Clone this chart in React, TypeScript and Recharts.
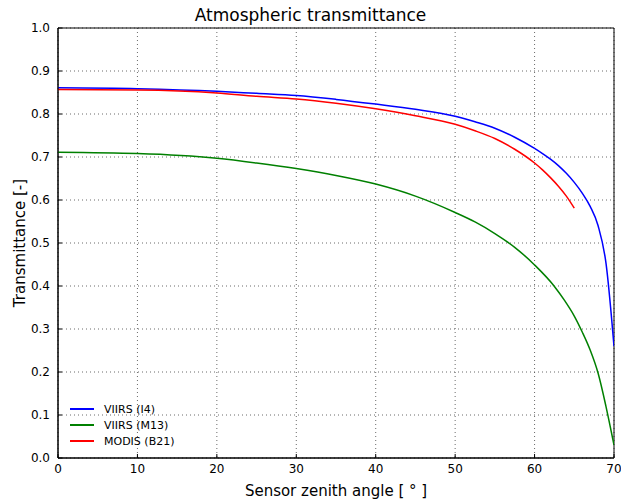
import { LineChart, Line, XAxis, YAxis, CartesianGrid, ReferenceArea } from 'recharts';

const FONT = "'DejaVu Sans', sans-serif";
const TICK = { fontSize: 12, fill: '#000', fontFamily: FONT };

const X_TICKS = [0, 10, 20, 30, 40, 50, 60, 70];
const Y_TICKS = [0, 0.1, 0.2, 0.3, 0.4, 0.5, 0.6, 0.7, 0.8, 0.9, 1.0];

const I4_ANGLE = [0, 10, 20, 25, 30, 35, 40, 45, 50, 52.5, 55, 57.5, 60, 61, 62, 63, 64, 65, 66, 67, 68, 69, 70];
const I4_VALUE = [0.861, 0.859, 0.853, 0.848, 0.843, 0.834, 0.823, 0.811, 0.795, 0.782, 0.767, 0.746, 0.72, 0.708, 0.695, 0.68, 0.662, 0.641, 0.616, 0.585, 0.54, 0.452, 0.26];

const M13_ANGLE = [0, 10, 20, 25, 30, 35, 40, 45, 50, 52.5, 55, 57.5, 60, 62.5, 63.75, 65, 66, 67, 68, 69, 70];
const M13_VALUE = [0.711, 0.708, 0.697, 0.686, 0.673, 0.657, 0.637, 0.609, 0.571, 0.549, 0.522, 0.49, 0.449, 0.399, 0.367, 0.33, 0.293, 0.251, 0.197, 0.119, 0.03];

const B21_ANGLE = [0, 10, 20, 25, 30, 35, 40, 45, 50, 52.5, 55, 57.5, 60, 61, 62, 63, 64, 65];
const B21_VALUE = [0.857, 0.856, 0.849, 0.841, 0.835, 0.825, 0.812, 0.796, 0.776, 0.761, 0.743, 0.718, 0.686, 0.67, 0.652, 0.632, 0.609, 0.581];

const SERIES = [
  { name: 'VIIRS (I4)', color: '#0000ff', angle: I4_ANGLE, value: I4_VALUE },
  { name: 'VIIRS (M13)', color: '#008000', angle: M13_ANGLE, value: M13_VALUE },
  { name: 'MODIS (B21)', color: '#ff0000', angle: B21_ANGLE, value: B21_VALUE },
];

const toRows = (a: number[], v: number[]) => a.map((x, i) => ({ x, y: v[i] }));

export default function App() {
  return (
    <div style={{ position: 'absolute', left: 0, top: 0, width: 621, height: 502, background: '#fff', fontFamily: FONT }}>
      <div style={{ position: 'absolute', left: 0, width: 621, top: 5, textAlign: 'center', fontSize: 17, color: '#000' }}>
        Atmospheric transmittance
      </div>
      <LineChart width={621} height={502} margin={{ top: 28, right: 7, bottom: 0, left: 0 }}>
        <CartesianGrid
          xAxisId="b" yAxisId="l" stroke="#444" strokeDasharray="1 3" strokeWidth={0.8}
          horizontalValues={Y_TICKS} verticalValues={X_TICKS}
        />
        <XAxis
          xAxisId="b" dataKey="x" type="number" domain={[0, 70]} ticks={X_TICKS}
          tick={TICK} tickLine={{ stroke: '#000' }} tickSize={-4} axisLine={{ stroke: '#000', strokeWidth: 1 }}
          height={44} tickMargin={10} allowDataOverflow
          label={{ value: 'Sensor zenith angle [ ° ]', position: 'insideBottom', offset: 6, fontSize: 15, fill: '#000', fontFamily: FONT }}
        />
        <YAxis
          yAxisId="l" type="number" domain={[0, 1]} ticks={Y_TICKS}
          tick={TICK} tickLine={{ stroke: '#000' }} tickSize={-4} axisLine={{ stroke: '#000', strokeWidth: 1 }} width={58} tickMargin={12}
          tickFormatter={(v: number) => v.toFixed(1)}
          label={{ value: 'Transmittance [-]', angle: -90, position: 'center', dx: -9, fontSize: 15, fill: '#000', fontFamily: FONT }}
        />
        <ReferenceArea xAxisId="b" yAxisId="l" x1={0} x2={70} y1={0} y2={1} fill="none" stroke="#000" strokeWidth={1} ifOverflow="visible" />
        {SERIES.map((s) => (
          <Line
            key={s.name} xAxisId="b" yAxisId="l" data={toRows(s.angle, s.value)} dataKey="y" name={s.name}
            stroke={s.color} strokeWidth={1.5} dot={false} type="monotone" isAnimationActive={false}
          />
        ))}
      </LineChart>
      <div style={{ position: 'absolute', left: 70, top: 401 }}>
        {SERIES.map((s) => (
          <div key={s.name} style={{ display: 'flex', alignItems: 'center', height: 16 }}>
            <div style={{ width: 24, height: 2, background: s.color }} />
            <span style={{ marginLeft: 10, fontSize: 11, color: '#000' }}>{s.name}</span>
          </div>
        ))}
      </div>
    </div>
  );
}
